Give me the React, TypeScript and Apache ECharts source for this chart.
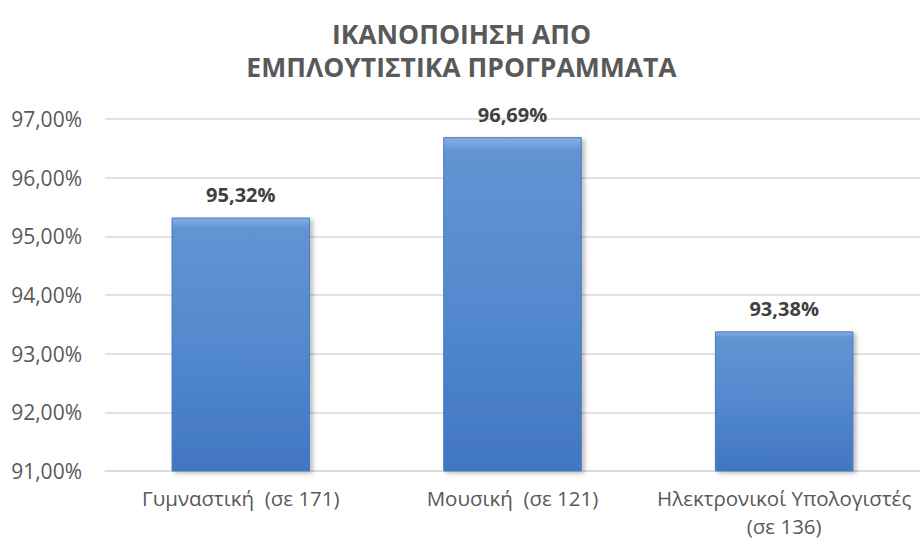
import React, { useEffect, useRef } from "react";
import * as echarts from "echarts";

const titleLines = ["ΙΚΑΝΟΠΟΙΗΣΗ ΑΠΟ", "ΕΜΠΛΟΥΤΙΣΤΙΚΑ ΠΡΟΓΡΑΜΜΑΤΑ"];
const categories = ["Γυμναστική  (σε 171)", "Μουσική  (σε 121)", "Ηλεκτρονικοί Υπολογιστές\n(σε 136)"];
const values = [95.32, 96.69, 93.38];
const yMin = 91;
const yMax = 97;
const yStep = 1;

const fmt = (v: number) => v.toFixed(2).replace(".", ",") + "%";
const FONT = "'Open Sans', 'Noto Sans', sans-serif";

export default function App() {
  const ref = useRef<HTMLDivElement>(null);
  useEffect(() => {
    if (!ref.current) return;
    const chart = echarts.init(ref.current, undefined, { renderer: "svg" });
    chart.setOption({
      animation: false,
      backgroundColor: "#ffffff",
      title: {
        text: titleLines.join("\n"),
        left: "center",
        top: 12,
        textStyle: {
          fontFamily: FONT,
          fontSize: 26.5,
          fontWeight: "bold",
          color: "#595959",
          lineHeight: 33,
        },
      },
      grid: { left: 105, right: 3, top: 119, bottom: 72, containLabel: false },
      xAxis: {
        type: "category",
        data: categories,
        axisTick: { show: false },
        axisLine: { lineStyle: { color: "#d9d9d9", width: 1.5 } },
        axisLabel: {
          fontFamily: FONT,
          fontSize: 20.5,
          color: "#595959",
          margin: 13,
          lineHeight: 28,
          interval: 0,
        },
      },
      yAxis: {
        type: "value",
        min: yMin,
        max: yMax,
        interval: yStep,
        axisLine: { show: false },
        axisTick: { show: false },
        splitLine: { lineStyle: { color: "#d9d9d9", width: 1.5 } },
        axisLabel: {
          fontFamily: FONT,
          fontSize: 21,
          color: "#595959",
          margin: 23,
          formatter: (v: number) => fmt(v),
        },
      },
      series: [
        {
          type: "bar",
          data: values,
          barWidth: "51%",
          itemStyle: {
            color: new echarts.graphic.LinearGradient(0, 0, 0, 1, [
              { offset: 0, color: "#86b0e4" },
              { offset: 0.04, color: "#6294d3" },
              { offset: 0.5, color: "#5389cf" },
              { offset: 1, color: "#4176c2" },
            ]),
            borderColor: "#4a79b8",
            borderWidth: 1,
            shadowColor: "rgba(0,0,0,0.25)",
            shadowBlur: 4,
            shadowOffsetX: 3,
            shadowOffsetY: 2,
          },
          label: {
            show: true,
            position: "top",
            distance: 13,
            fontFamily: FONT,
            fontSize: 20,
            fontWeight: "bold",
            color: "#404040",
            formatter: (p: any) => fmt(p.value),
          },
        },
      ],
    });
    return () => chart.dispose();
  }, []);
  return (
    <div
      ref={ref}
      style={{ position: "fixed", left: 0, top: 0, width: 923, height: 543 }}
    />
  );
}
